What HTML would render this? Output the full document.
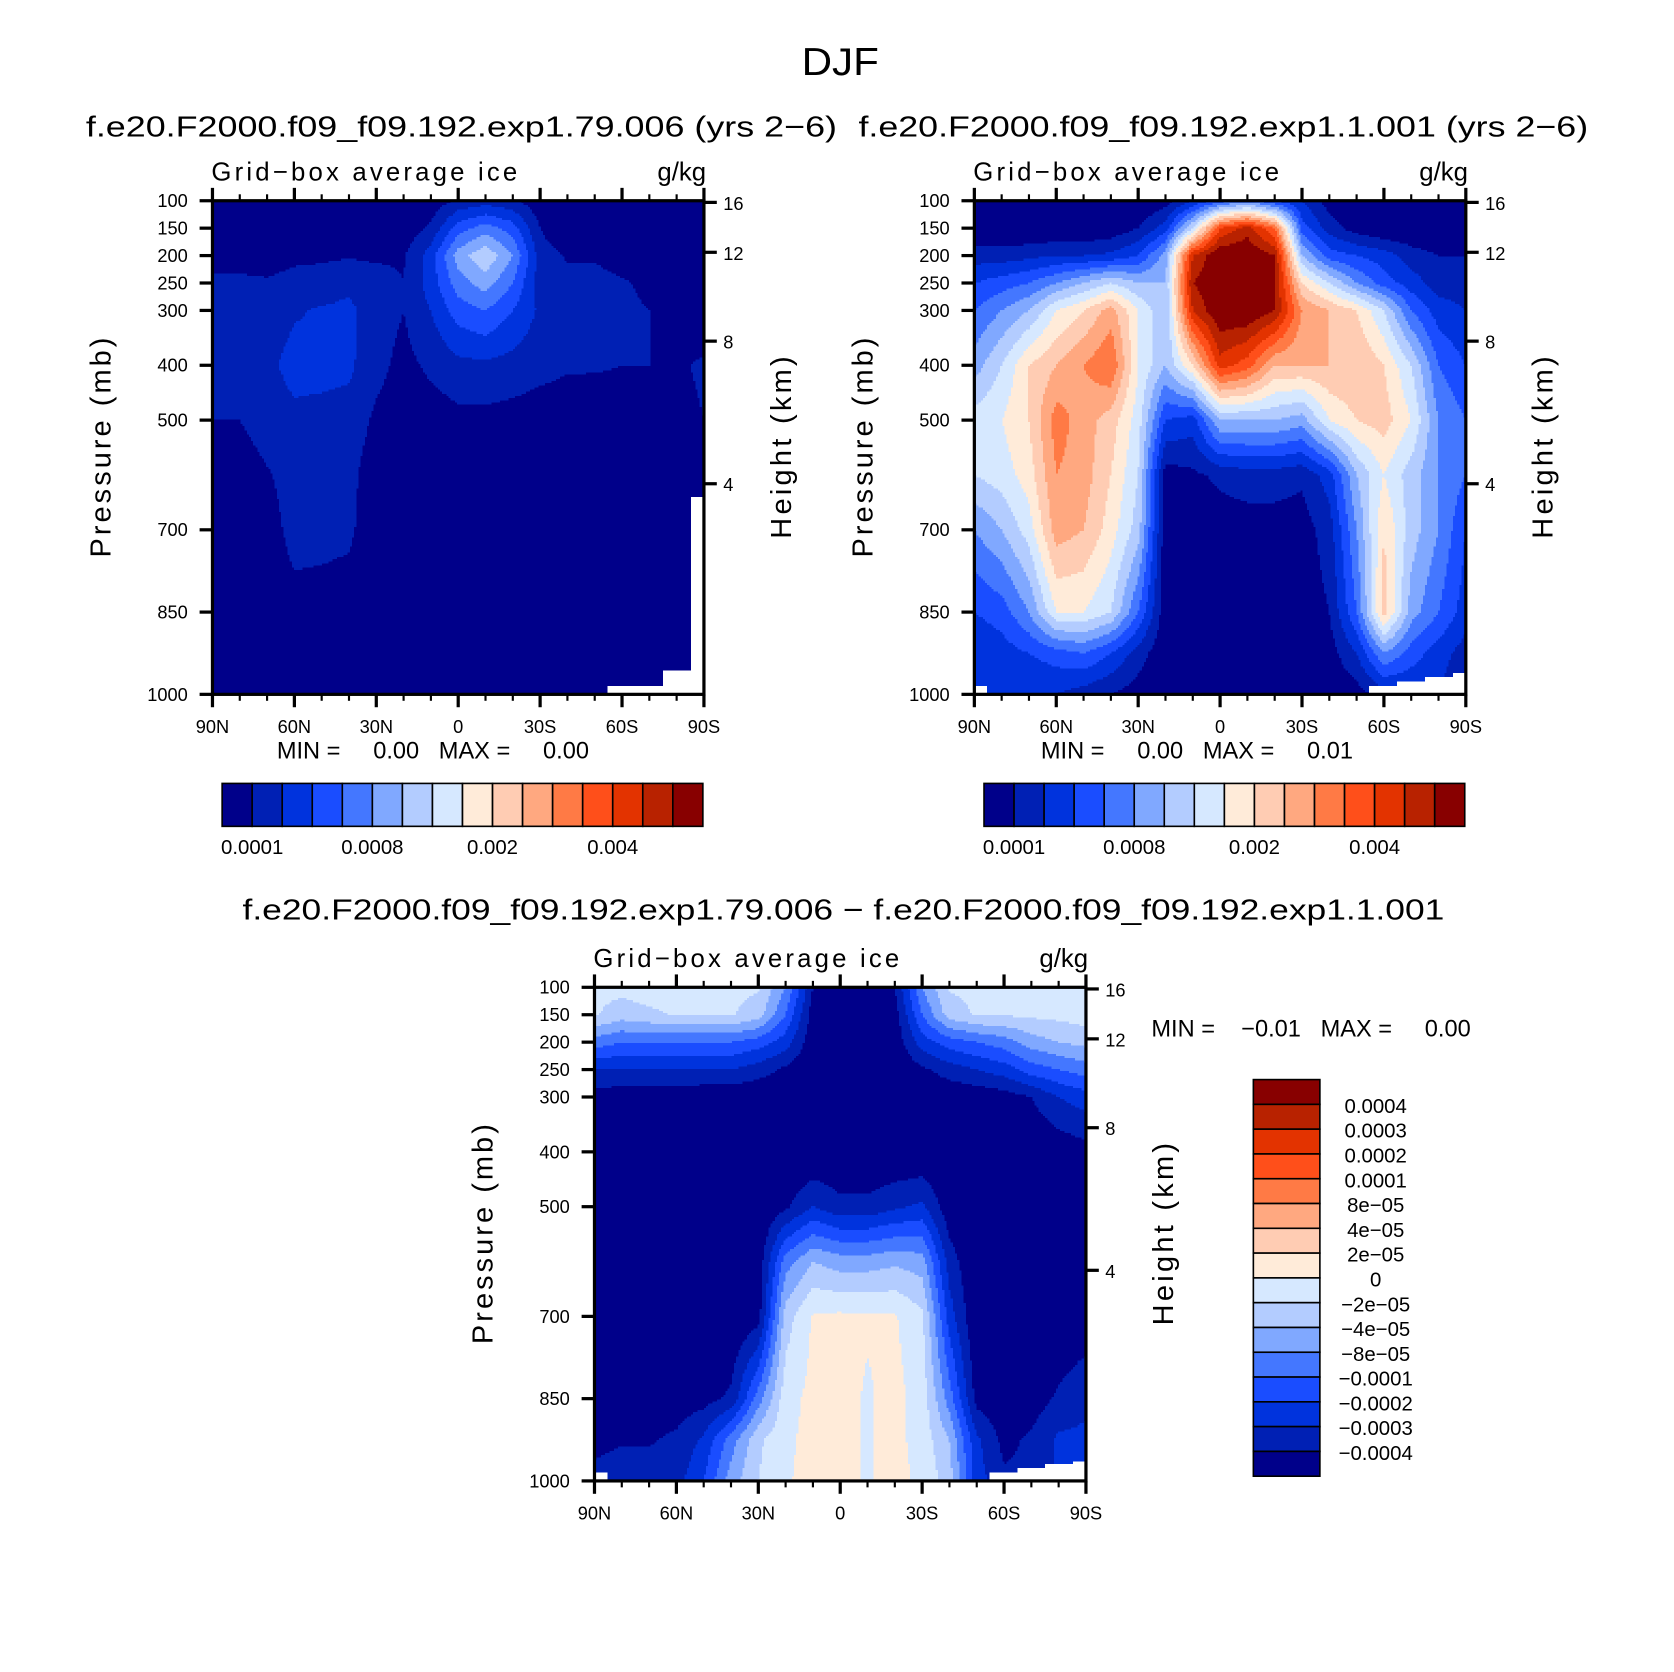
<!DOCTYPE html>
<html><head><meta charset="utf-8"><style>
html,body{margin:0;padding:0;background:#fff;}
svg{display:block;font-family:"Liberation Sans",sans-serif;}
</style></head><body>
<svg id="fig" xmlns="http://www.w3.org/2000/svg" width="1674" height="1672" viewBox="0 0 1560 1558">
<text x="783" y="70" font-size="36" text-anchor="middle" textLength="72" lengthAdjust="spacingAndGlyphs">DJF</text>
<text x="80" y="127" font-size="27" textLength="700" lengthAdjust="spacingAndGlyphs">f.e20.F2000.f09_f09.192.exp1.79.006 (yrs 2−6)</text>
<text x="800" y="127" font-size="27" textLength="680" lengthAdjust="spacingAndGlyphs">f.e20.F2000.f09_f09.192.exp1.1.001 (yrs 2−6)</text>
<text x="226" y="857" font-size="27" textLength="1120" lengthAdjust="spacingAndGlyphs">f.e20.F2000.f09_f09.192.exp1.79.006 − f.e20.F2000.f09_f09.192.exp1.1.001</text>
<g id="layer"></g>
</svg>
<script>
// ---------- data ----------
const lats = [90,80,70,60,50,40,30,20,10,0,-10,-20,-30,-40,-50,-60,-70,-80,-90];
const pLevels = [100,150,200,250,300,400,500,600,700,850,925,1000];
const colors = ["#00008a","#0020b4","#0033dd","#1a4dff","#4477ff","#80a8ff","#b3ccff","#d6e8ff","#ffebd9","#ffccb3","#ffa880","#ff7a45","#ff4f1a","#e33300","#b82200","#880000"];
// values expressed in contour-level index units (level k = colour k)
const field1 = [
[0,0,0,0,0,0,0,0,0.3,1.2,1.5,1.2,0.3,0,0,0,0,0,0],
[0,0,0,0,0,0,0,0.3,1.2,3.5,4.5,3.5,1.0,0,0,0,0,0,0],
[0.6,0.6,0.6,0.8,0.8,0.9,0.8,0.9,2.5,5.5,6.8,5.0,1.5,0.9,0.9,0.6,0.3,0,0],
[1.2,1.2,1.1,1.3,1.5,1.8,1.5,1.0,2.5,4.5,5.5,4.0,1.5,1.3,1.3,1.1,0.8,0.5,0.3],
[1.3,1.3,1.5,1.9,2.1,2.2,1.5,1.0,2.0,3.5,4.0,3.0,1.8,1.5,1.4,1.2,1.0,0.7,0.5],
[1.2,1.3,1.8,2.3,2.3,2.2,1.3,0.7,1.2,1.7,1.8,1.6,1.3,1.1,1.1,1.0,1.0,0.9,1.1],
[1.0,1.0,1.5,1.8,1.7,1.6,0.8,0.5,0.5,0.7,0.7,0.6,0.5,0.5,0.4,0.5,0.7,0.8,1.0],
[0.3,0.4,0.9,1.4,1.4,1.3,0.4,0.3,0.3,0.3,0.3,0.3,0.3,0.3,0.3,0.3,0.3,0.3,0.3],
[0.2,0.2,0.6,1.3,1.3,1.2,0.3,0.2,0.2,0.2,0.2,0.2,0.2,0.2,0.9,0.6,0.2,0.2,0.2],
[0.2,0.3,0.4,0.7,0.6,0.5,0.2,0.2,0.2,0.2,0.2,0.2,0.2,0.2,0.5,0.3,0.2,0.2,0.2],
[0.2,0.2,0.2,0.2,0.2,0.2,0.2,0.2,0.2,0.2,0.2,0.2,0.2,0.2,0.2,0.2,0.2,0.2,0.2],
[0.3,0.3,0.2,0.2,0.2,0.2,0.2,0.2,0.2,0.2,0.2,0.2,0.2,0.2,0.2,0.2,0.2,0.2,0.2]];
const field2 = [
[0,0,0,0,0,0,0,0.5,2,3.5,4.5,3,2,0.5,0,0,0,0,0],
[0,0,0,0,0,0.3,1,2.5,7,13,14.5,12,3.5,1.5,0.5,0,0,0,0],
[1.5,1.5,1.7,2,2,2.2,3,5.5,14,16,16,15,6,3.5,3,2.5,1.5,1,1],
[3,3.5,4,5,6,7,6,6,15,16,16,15,9,7,5,3.5,2.5,1.5,1.5],
[4,5,6,8,9,10.5,8,6,14,16,16,15,11,10,9,7,4,2.5,2],
[5.5,7,9,10,11,12,8,6,9,13.5,12.5,10,10,10,10,9,7,4,3],
[7.5,8,9,11.5,10.5,9.5,7.5,3,2.5,6,6,6,5.5,8,9,9.5,8,5,4],
[7,7.5,8.5,11,10.5,9,7,0.5,0.8,1.2,1.5,1.5,1.2,2.5,6,8,6.5,5,4],
[5,6,7.5,10.5,10,8.5,6.5,0.3,0.3,0.5,0.5,0.5,0.5,1.5,5,9,6.5,5,3],
[3,3.5,5,8,8,7,4,0.3,0.2,0.2,0.2,0.2,0.3,1,4,9.5,5.5,4,2.5],
[2,2.5,3,3.5,4,3,1.5,0.2,0.2,0.2,0.2,0.2,0.2,0.5,2,5,3.5,2.5,1.5],
[2,2,2,2,1.5,1,0.5,0.2,0.2,0.2,0.2,0.2,0.2,0.2,0.5,1.5,2,2,1]];
const field3 = [
[7.3,7.3,7.5,7.3,7.3,7.3,7.1,5,1,0,0,1,5,7.1,7.3,7.3,7.3,7.3,7.5],
[7.1,6.5,6.8,7.1,7.1,7.1,6.5,4,0.5,0,0,0.5,4,6.5,7.1,7.1,7.2,7.3,7.5],
[4.5,4,4,4,4,4,3.5,2.5,0.3,0,0,0.3,2.5,3.5,4,4.5,5.5,6,6.3],
[2,2,2,2,2,2,1.5,0.8,0,0,0,0,0.8,1.5,2,2.5,3.5,4,4.5],
[0.5,0.4,0.3,0.3,0.2,0.2,0.1,0,0,0,0,0,0,0.2,0.3,0.5,1,2,2.5],
[0,0,0,0,0,0,0,0,0,0,0,0,0,0,0,0,0,0.3,0.6],
[0,0,0,0,0,0,0,0.8,2,1.3,1.3,1.8,2.2,0.3,0,0,0,0,0],
[0,0,0,0,0,0,0.3,4.5,6,5.5,5.5,5.8,5.5,1.5,0,0,0,0,0],
[0,0,0,0,0,0,0.5,6.5,8.1,8.2,8.1,8.1,7.2,2.5,0,0,0,0,0.3],
[0.2,0.2,0.3,0.4,0.6,1.2,4.5,7.6,8.3,8.3,7.9,8.3,7.6,4.5,0.6,0.2,0.4,1.2,1.8],
[0.8,0.9,0.9,1.2,2.2,4.5,6.8,7.8,8.3,8.3,7.9,8.3,7.6,6,2.2,0.7,1.2,2.2,2.2],
[1.2,1.5,1.5,1.6,3,5.5,7,7.9,8.3,8.3,7.9,8.3,7.8,6.5,2.5,1.2,1.2,2.2,2.2]];
// surface pressure per latitude (below = missing/white)
const psfc1 = [1000,1000,1000,1000,1000,1000,1000,1000,1000,1000,1000,1000,1000,1000,1000,985,985,955,640];
const psfc2 = [985,1000,1000,1000,1000,1000,1000,1000,1000,1000,1000,1000,1000,1000,1000,985,975,970,960];
const psfc3 = [985,1000,1000,1000,1000,1000,1000,1000,1000,1000,1000,1000,1000,1000,1000,985,975,970,965];
const pTickLabels = ["100","150","200","250","300","400","500","700","850","1000"];
const pTicks = [100,150,200,250,300,400,500,700,850,1000];
const hTicks = [16,12,8,4];
const hTickP = [103,194,356,616];
const latTicks = [90,60,30,0,-30,-60,-90];
const latTickLabels = ["90N","60N","30N","0","30S","60S","90S"];
const cb12Labels = ["0.0001","0.0008","0.002","0.004"];
const cb12LabelIdx = [1,5,9,13];
const cb3Labels = ["0.0004","0.0003","0.0002","0.0001","8e−05","4e−05","2e−05","0","−2e−05","−4e−05","−8e−05","−0.0001","−0.0002","−0.0003","−0.0004"];

// ---------- drawing ----------
const NS="http://www.w3.org/2000/svg";
const layer=document.getElementById('layer');
function mk(tag,attrs,parent){const e=document.createElementNS(NS,tag);for(const k in attrs)e.setAttribute(k,attrs[k]);(parent||layer).appendChild(e);return e;}
function txt(s,x,y,size,anchor,parent,name){const t=mk('text',{x:x,y:y,'font-size':size,'text-anchor':anchor||'start'},parent);t.textContent=s;


return t;}

function sample(field,lat,p){
  let fi=(90-lat)/10; if(fi<0)fi=0; if(fi>18)fi=18;
  const i0=Math.min(17,Math.floor(fi)), tx=fi-i0;
  let j0=0; while(j0<pLevels.length-2 && p>pLevels[j0+1]) j0++;
  let ty=(p-pLevels[j0])/(pLevels[j0+1]-pLevels[j0]); ty=Math.max(0,Math.min(1,ty));
  const a=field[j0][i0],b=field[j0][i0+1],c=field[j0+1][i0],d=field[j0+1][i0+1];
  return (a*(1-tx)+b*tx)*(1-ty)+(c*(1-tx)+d*tx)*ty;
}

function panel(name,x0,y0,field,psfc,opts){
  const W=458,H=460;
  const g=mk('g',{});
  
  
  const xs=lat=>x0+(90-lat)/180*W;
  const ys=p=>y0+(p-100)/900*H;
  const step=2;
  const cells=mk('g',{'shape-rendering':'crispEdges'},g);
  
  
  for(let py=0;py<H;py+=step){
    const p=100+(py+step/2)/H*900;
    let runStart=0,runCol=null;
    const flush=(end)=>{ if(runCol){const r=mk('rect',{x:x0+runStart,y:y0+py,width:end-runStart+0.4,height:step+0.4,fill:runCol},cells);
      
      } };
    for(let px=0;px<W;px+=step){
      const lat=90-(px+step/2)/W*180;
      const li=Math.round((90-lat)/10);
      let col;
      if(p>psfc[li]) col='#ffffff';
      else {let v=Math.floor(sample(field,lat,p)); v=Math.max(0,Math.min(15,v)); col=colors[v];}
      if(col!==runCol){flush(px);runStart=px;runCol=col;}
    }
    flush(W);
  }
  const fr=mk('rect',{x:x0,y:y0,width:W,height:H,fill:'none',stroke:'#000','stroke-width':3},g);
  
  
  for(let lat=90;lat>=-90;lat-=10){
    const major=(lat%30===0), L=major?12:6, x=xs(lat);
    mk('line',{x1:x,y1:y0+H,x2:x,y2:y0+H+L,stroke:'#000','stroke-width':major?3:2},g);
    mk('line',{x1:x,y1:y0,x2:x,y2:y0-L,stroke:'#000','stroke-width':major?3:2},g);
  }
  latTicks.forEach((lat,i)=>txt(latTickLabels[i],xs(lat),y0+H+36,17,'middle',g,'x-tick-label'));
  pTicks.forEach((p,i)=>{mk('line',{x1:x0,y1:ys(p),x2:x0-12,y2:ys(p),stroke:'#000','stroke-width':3},g);
    txt(pTickLabels[i],x0-23,ys(p)+6,17,'end',g,'y-tick-label');});
  hTicks.forEach((h,i)=>{const y=ys(hTickP[i]);mk('line',{x1:x0+W,y1:y,x2:x0+W+12,y2:y,stroke:'#000','stroke-width':3},g);
    txt(String(h),x0+W+18,y+7,17,'start',g,'right-tick-label');});
  txt('Grid−box average ice',x0-1,y0-19,24,'start',g,'variable-label').setAttribute('textLength','285');
  txt('g/kg',x0+W+2,y0-19,24,'end',g,'units-label');
  const yt=txt('Pressure (mb)',0,0,27,'middle',g,'y-axis-title');
  yt.setAttribute('transform','translate('+(x0-95)+','+(y0+230)+') rotate(-90)');
  yt.setAttribute('textLength','205');
  const ht=txt('Height (km)',0,0,27,'middle',g,'right-axis-title');
  ht.setAttribute('transform','translate('+(x0+W+81)+','+(y0+230)+') rotate(-90)');
  ht.setAttribute('textLength','170');
  if(opts.minmax){
    const m=txt(opts.minmax,opts.mmx,opts.mmy,22,'start',g,'min-max-label');
    m.setAttribute('xml:space','preserve');m.style.whiteSpace='pre';
  }
}

function hbar(name,x0,y0){
  const g=mk('g',{});
  
  
  const w=28;
  colors.forEach((c,i)=>{const r=mk('rect',{x:x0+i*w,y:y0,width:w,height:40,fill:c,stroke:'#000','stroke-width':1.5},g);
    
    });
  cb12Labels.forEach((s,i)=>txt(s,x0+cb12LabelIdx[i]*w,y0+66,19,'middle',g,'colorbar-label'));
}
function vbar(name,x0,y0){
  const g=mk('g',{});
  
  
  const h=23.1;
  colors.slice().reverse().forEach((c,i)=>{const r=mk('rect',{x:x0,y:y0+i*h,width:62,height:h,fill:c,stroke:'#000','stroke-width':1.5},g);
    
    });
  cb3Labels.forEach((s,i)=>txt(s,x0+114,y0+(i+1)*h+8,19,'middle',g,'colorbar-label'));
}

panel('panel-control',198,187,field1,psfc1,{minmax:'MIN =     0.00   MAX =     0.00',mmx:258,mmy:707});
panel('panel-experiment',908,187,field2,psfc2,{minmax:'MIN =     0.00   MAX =     0.01',mmx:970,mmy:707});
panel('panel-difference',554,920,field3,psfc3,{minmax:'MIN =    −0.01   MAX =     0.00',mmx:1073,mmy:966});
hbar('colorbar-control',207,730);
hbar('colorbar-experiment',917,730);
vbar('colorbar-difference',1168,1006);
</script>
</body></html>
